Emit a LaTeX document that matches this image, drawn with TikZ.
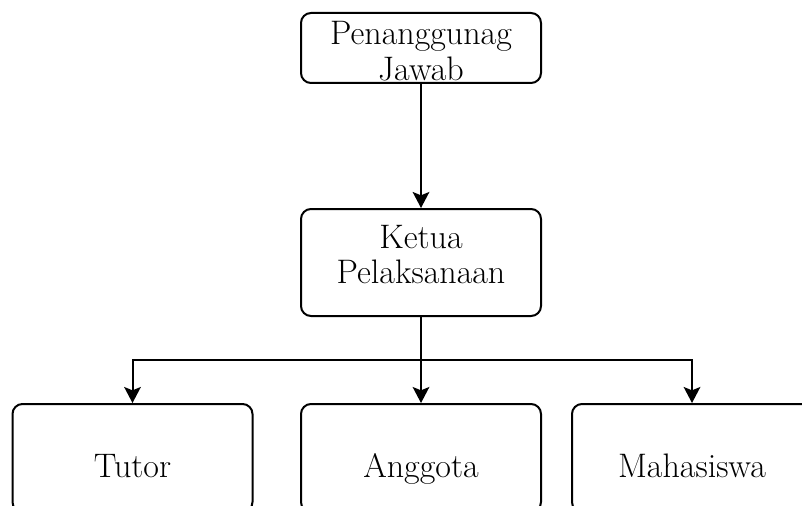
\documentclass[tikz,border=0pt]{standalone}
\usepackage{amsmath}
\usepackage{xcolor}
\usepackage{tikz}
\usetikzlibrary{arrows.meta}

\begin{document}
\begin{tikzpicture}[x=0.75pt, y=-0.75pt,
    box/.style={draw, line width=1.5pt, rounded corners=7.5pt,
      minimum width=180pt, align=center, inner sep=0pt,
      font=\fontsize{25.5}{26.5}\selectfont},
    leaf/.style={box, text height=54.75pt, text depth=26.25pt},
    conn/.style={line width=1.5pt,
      -{Stealth[length=12pt, width=12.5pt, inset=2.5pt]}}
  ]
  \useasboundingbox (0,0) rectangle (802,506);
  \node (PJ) [box, text height=50.5pt, text depth=2pt]
    at (421,48) {Penanggunag\\Jawab};
  \node (KP) [box, text height=55.75pt, text depth=24.5pt]
    at (421,262.5) {Ketua\\Pelaksanaan};
  \node (TU) [leaf] at (132.5,458) {Tutor};
  \node (AG) [leaf] at (421,458) {Anggota};
  \node (MH) [leaf] at (692,458) {Mahasiswa};
  \coordinate (split) at (421,360);
  \draw[conn] (PJ) -- (KP);
  \draw[conn] (KP) -- (AG);
  \draw[conn] (split) -| (TU);
  \draw[conn] (split) -| (MH);
\end{tikzpicture}
\end{document}
